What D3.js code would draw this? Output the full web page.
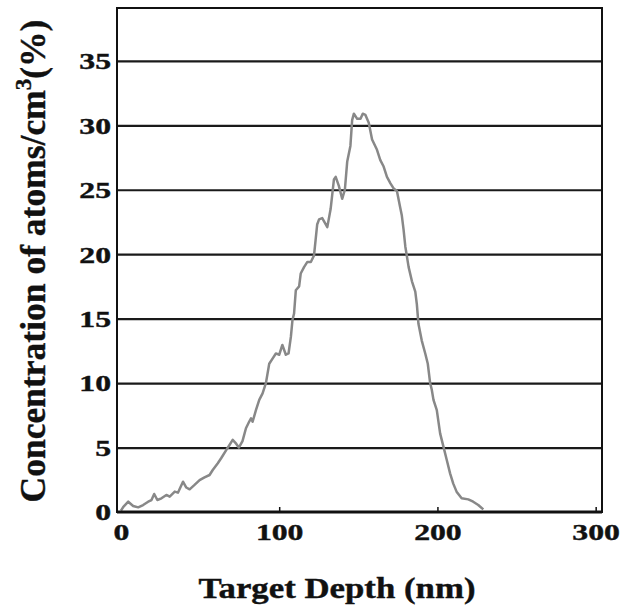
<!DOCTYPE html>
<html>
<head>
<meta charset="utf-8">
<script src="https://cdn.jsdelivr.net/npm/d3@7/dist/d3.min.js"></script>
<style>
  html, body { margin: 0; padding: 0; background: #fff; }
  svg { display: block; }
</style>
</head>
<body>
<svg id="chart" width="621" height="608"></svg>
<script>
// ---- data ----
const depth = [0, 1.5, 4.6, 7.7, 10.9, 14, 17.2, 19.3, 21, 23, 25.6, 28.7, 30.8, 34, 36, 39.2, 41.3, 43.4, 46.5, 49.7,
  52.8, 56, 58, 61.2, 63.3, 66.5, 68.6, 70.6, 72.8, 74.5, 76.8, 79, 81, 82.2, 83.2, 85.3, 87.4, 89.5, 91.6, 93.7,
  95.8, 97.9, 100, 102, 104.2, 105.9, 107.4, 108.4, 109.4, 110.5, 112.6, 113.6, 115.7, 117.8, 120, 122, 123, 124,
  125.2, 127.2, 130.4, 132.5, 134.6, 135.7, 137.7, 139.8, 141.5, 143, 145, 146.1, 147.2, 149.3, 151.4, 152.8, 154.5,
  156.6, 158.7, 161.8, 163.9, 166, 168.1, 170.3, 172.3, 174.4, 176.5, 177.5, 178.6, 179.7, 181.8, 183.9, 186, 187,
  188, 190.1, 192.3, 193.9, 195.4, 196.4, 197.5, 199.6, 201.7, 203.8, 205.9, 208, 210, 212.1, 215.3, 219.5, 222.6,
  225.8, 229];
const concentration = [0.1, 0.4, 0.8, 0.47, 0.36, 0.54, 0.8, 0.93, 1.4, 0.93, 1.06, 1.32, 1.19, 1.58, 1.5, 2.35, 1.9,
  1.76, 2.1, 2.48, 2.69, 2.87, 3.26, 3.78, 4.17, 4.8, 5.2, 5.6, 5.3, 5.0, 5.5, 6.5, 7.0, 7.27, 7.0, 7.9, 8.7, 9.2,
  10, 11.5, 11.9, 12.3, 12.2, 12.96, 12.2, 12.3, 13.6, 14.9, 15.4, 17.2, 17.5, 18.5, 19, 19.4, 19.4, 19.9, 21.1,
  22.3, 22.7, 22.8, 22.1, 23.5, 25.8, 26.0, 25.3, 24.3, 25.0, 27.2, 28.4, 30.4, 30.9, 30.5, 30.5, 30.9, 30.8, 30.2,
  28.9, 28.1, 27.3, 26.8, 26.0, 25.5, 25.1, 24.9, 23.6, 23.0, 21.9, 20.6, 19.0, 17.9, 17.1, 16.1, 14.6, 13.3, 12.3,
  11.5, 10, 9.5, 8.7, 7.9, 6.1, 5.07, 4.03, 3.0, 2.2, 1.58, 1.06, 0.98, 0.8, 0.54, 0.2];
const xTicks = [0, 100, 200, 300];
const yTicks = [0, 5, 10, 15, 20, 25, 30, 35];
const xTitle = "Target Depth (nm)";
const yTitleMain = "Concentration of atoms/cm";
const yTitleSup = "3";
const yTitleEnd = "(%)";

// ---- layout ----
const L = 117, R = 602, T = 8, B = 512;
const svg = d3.select("#chart");
const font = "'Liberation Serif', 'Times New Roman', serif";

const x = d3.scaleLinear().domain([-2.5, 304]).range([L, R]);
const y = d3.scaleLinear().domain([0, 39.1]).range([B, T]);

// gridlines via axis
const grid = svg.append("g").attr("transform", `translate(${L},0)`)
  .call(d3.axisLeft(y).tickValues(yTicks.filter(d => d > 0)).tickSize(-(R - L)).tickFormat(""));
grid.select(".domain").remove();
grid.selectAll("line").attr("stroke", "#1a1a1a").attr("stroke-width", 2.2);

// x axis (inside ticks)
const xa = svg.append("g").attr("transform", `translate(0,${B})`)
  .call(d3.axisBottom(x).tickValues(xTicks).tickSize(-5).tickPadding(0));
xa.select(".domain").remove();
xa.selectAll("line").attr("stroke", "#111").attr("stroke-width", 1.5);
xa.selectAll("line").filter(d => d === 0).remove();
xa.selectAll("text")
  .attr("y", 28).attr("dy", 0)
  .attr("transform", "scale(1.38,1)")
  .attr("font-family", font).attr("font-weight", "bold").attr("font-size", 23)
  .attr("fill", "#111").attr("stroke", "#111").attr("stroke-width", 0.4);

// y axis labels
const ya = svg.append("g").attr("transform", `translate(${L},0)`)
  .call(d3.axisLeft(y).tickValues(yTicks).tickSize(0).tickPadding(0));
ya.select(".domain").remove();
ya.selectAll("text")
  .attr("x", -6 / 1.38).attr("dy", "0.34em")
  .attr("transform", "scale(1.38,1)")
  .attr("font-family", font).attr("font-weight", "bold").attr("font-size", 23)
  .attr("fill", "#111").attr("stroke", "#111").attr("stroke-width", 0.4);

// curve
const line = d3.line().x((d, i) => x(depth[i])).y((d, i) => y(concentration[i]));
svg.append("path").datum(concentration)
  .attr("d", line)
  .attr("fill", "none").attr("stroke", "#888").attr("stroke-width", 2.5)
  .attr("stroke-linejoin", "round");

// frame
svg.append("rect").attr("x", L).attr("y", T).attr("width", R - L).attr("height", B - T)
  .attr("fill", "none").attr("stroke", "#111").attr("stroke-width", 2);
svg.append("line").attr("x1", L).attr("x2", R).attr("y1", B).attr("y2", B)
  .attr("stroke", "#111").attr("stroke-width", 2.8);

// x title
svg.append("text")
  .attr("transform", `translate(337,598) scale(1.16,1)`)
  .attr("text-anchor", "middle")
  .attr("font-family", font).attr("font-weight", "bold").attr("font-size", 30)
  .attr("fill", "#111").attr("stroke", "#111").attr("stroke-width", 0.4).text(xTitle);

// y title
const yt = svg.append("text")
  .attr("transform", `translate(45,261) rotate(-90)`)
  .attr("text-anchor", "middle")
  .attr("font-family", font).attr("font-weight", "bold").attr("font-size", 35.5)
  .attr("fill", "#111").attr("stroke", "#111").attr("stroke-width", 0.4);
yt.append("tspan").text(yTitleMain);
yt.append("tspan").attr("font-size", 23).attr("dy", -14).text(yTitleSup);
yt.append("tspan").attr("dy", 14).text(yTitleEnd);
</script>
</body>
</html>
